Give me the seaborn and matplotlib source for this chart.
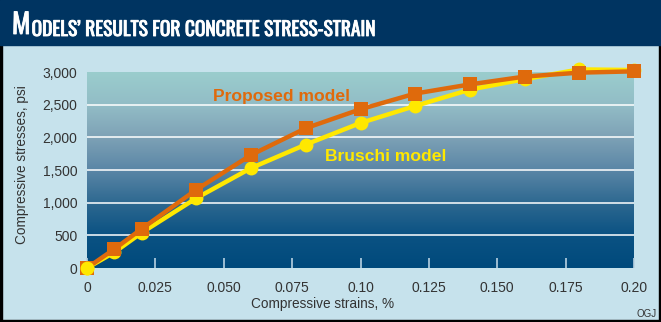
import numpy as np
import pandas as pd
import matplotlib
matplotlib.use("Agg")
import matplotlib.pyplot as plt
import matplotlib.patheffects as pe
import seaborn as sns
from matplotlib.colors import LinearSegmentedColormap
from matplotlib.patches import Rectangle

sns.set_theme(style="white")
plt.rcParams['font.family'] = ['Liberation Sans', 'DejaVu Sans']

# ---- data ----
strain = [0, 0.01, 0.02, 0.04, 0.06, 0.08, 0.10, 0.12, 0.14, 0.16, 0.18, 0.20]
proposed = [0, 290, 600, 1200, 1730, 2140, 2430, 2670, 2810, 2930, 2990, 3010]
bruschi = [0, 240, 540, 1070, 1530, 1890, 2220, 2480, 2730, 2890, 3040, 3030]
xticks = [0, 0.025, 0.050, 0.075, 0.10, 0.125, 0.150, 0.175, 0.20]
xticklabels = ["0", "0.025", "0.050", "0.075", "0.10", "0.125", "0.150", "0.175", "0.20"]
yticks = [0, 500, 1000, 1500, 2000, 2500, 3000]
yticklabels = ["0", "500", "1,000", "1,500", "2,000", "2,500", "3,000"]

W, H = 661, 322
fig = plt.figure(figsize=(W / 100, H / 100), dpi=100)
fig.patch.set_facecolor("#c6e2ec")

# frame and title band
for r in [Rectangle((0, 0), 2 / W, 1), Rectangle((659 / W, 0), 2 / W, 1),
          Rectangle((0, 0), 1, 2 / H)]:
    r.set_transform(fig.transFigure); r.set_color("black"); r.set_zorder(-2)
    fig.patches.append(r)
band = Rectangle((0, 1 - 45 / H), 1, 45 / H, transform=fig.transFigure, color="#003461", zorder=-1)
fig.patches.append(band)

# axes
ax = fig.add_axes([87 / W, 54 / H, (634 - 87) / W, (268 - 72) / H])

title_fam = ["Oswald", "Roboto Condensed", "Archivo Narrow", "Liberation Sans", "DejaVu Sans"]
bold_fx = [pe.withStroke(linewidth=0.6, foreground="white")]
mtxt = fig.text(12 / W, 1 - 34 / H, "M", color="white", fontsize=20, fontweight="bold",
                family=title_fam, va="baseline", zorder=5, path_effects=bold_fx)
ax.annotate("ODELS\u2019 RESULTS FOR CONCRETE STRESS-STRAIN", xy=(1, 0), xycoords=mtxt,
            xytext=(1.0, 0), textcoords="offset points", color="white", fontsize=14,
            fontweight="bold", family=title_fam, va="bottom", ha="left",
            annotation_clip=False, zorder=5, path_effects=bold_fx)

cmap = LinearSegmentedColormap.from_list("bg", [
    (0.0, "#004a7c"), (0.17, "#0b5283"), (0.33, "#2d6890"), (0.5, "#5a86a6"),
    (0.67, "#7ea2b6"), (0.83, "#92bcc6"), (1.0, "#9acdcd")])
grad = np.linspace(0, 1, 256).reshape(-1, 1)
ax.imshow(grad, extent=[0, 0.2, 0, 3000], origin="lower", aspect="auto", cmap=cmap, zorder=0)

for v in yticks[1:-1]:
    ax.axhline(v, color="white", lw=1.1, zorder=1)

df = pd.DataFrame({"strain": strain * 2,
                   "stress": bruschi + proposed,
                   "model": ["Bruschi"] * len(strain) + ["Proposed"] * len(strain)})
sns.lineplot(data=df[df.model == "Bruschi"], x="strain", y="stress", ax=ax, color="#ffe800",
             lw=3.2, marker="o", markersize=10, markeredgewidth=0, clip_on=False, zorder=3)
sns.lineplot(data=df[df.model == "Proposed"], x="strain", y="stress", ax=ax, color="#df6a0c",
             lw=3.2, marker="s", markersize=9.5, markeredgewidth=0, clip_on=False, zorder=4)
ax.plot(strain[:1], bruschi[:1], marker="o", color="#ffe800", markersize=10, mew=0,
        clip_on=False, zorder=5)

ax.set_xlim(0, 0.2)
ax.set_ylim(0, 3000)
ax.set_xticks(xticks)
ax.set_xticklabels(xticklabels)
ax.set_yticks(yticks)
ax.set_yticklabels(yticklabels)
ax.tick_params(axis="x", direction="in", length=7, width=1.2, color="#b8d2e2", pad=9,
               labelsize=10, labelcolor="#333333", bottom=True)
ax.tick_params(axis="y", length=0, pad=7, labelsize=10, labelcolor="#333333")
for s in ax.spines.values():
    s.set_visible(False)
ax.set_xlabel("")
ax.set_ylabel("")

ax.text(0.046, 2625, "Proposed model", color="#df6a0c", fontsize=12.6, fontweight="bold",
        va="center", ha="left", zorder=6)
ax.text(0.087, 1710, "Bruschi model", color="#ffe800", fontsize=12.6, fontweight="bold",
        va="center", ha="left", zorder=6)

fig.text(323 / W, 1 - 304 / H, "Compressive strains, %", ha="center", va="center",
         fontsize=9.8, color="#333333")
fig.text(22 / W, 1 - 165 / H, "Compressive stresses, psi", ha="center", va="center",
         rotation=90, fontsize=9.8, color="#333333")
fig.text(657 / W, 1 - 314 / H, "OGJ", ha="right", va="center", fontsize=7, color="#333333")

fig.savefig("out.png", dpi=100, facecolor=fig.get_facecolor())
